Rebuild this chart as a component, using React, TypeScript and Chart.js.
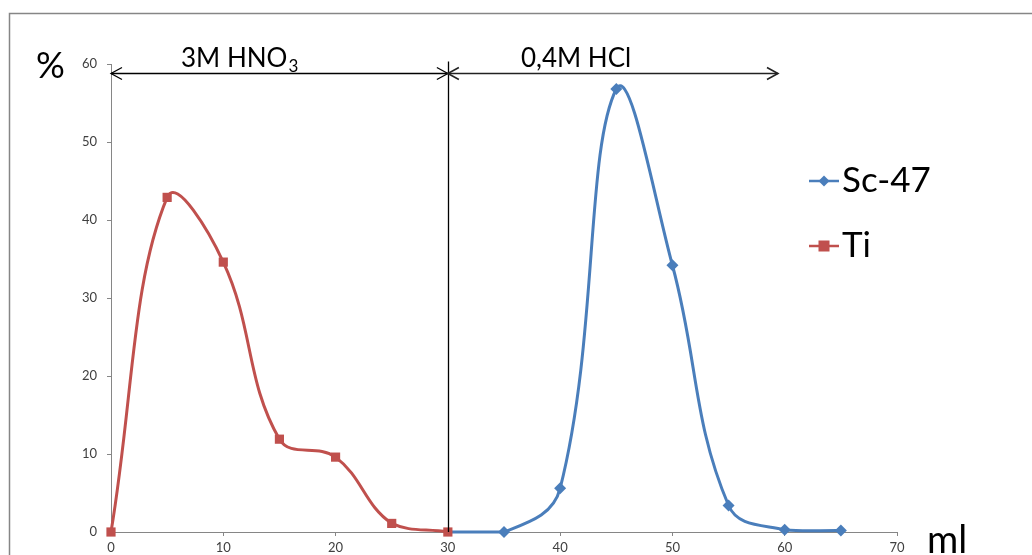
import React, { useEffect, useRef } from "react";
import { Chart, registerables } from "chart.js";

Chart.register(...registerables);

// Elution volumes (ml) and recovered fractions (%)
const tiVolumes = [0, 5, 10, 15, 20, 25, 30];
const tiPercent = [0, 42.9, 34.6, 11.9, 9.6, 1.1, 0];

const scVolumes = [30, 35, 40, 45, 50, 55, 60, 65];
const scPercent = [0, 0, 5.6, 56.8, 34.2, 3.4, 0.3, 0.2];

const xTicks = [0, 10, 20, 30, 40, 50, 60, 70];
const yTicks = [0, 10, 20, 30, 40, 50, 60];

// Eluent ranges shown by the arrows above the curves
const eluentSwitch = 30;
const hclEnd = 59.4;
const arrowLevel = 58.8;

const seriesNames = ["Sc-47", "Ti"];

const RED = "#C0504D";
const BLUE = "#4A7EBB";
const AXIS = "#868686";
const FONT = "Lato, 'Open Sans', sans-serif";

function arrowHead(ctx: CanvasRenderingContext2D, x: number, y: number, dir: number) {
  const len = 11;
  const half = 6;
  ctx.beginPath();
  ctx.moveTo(x - dir * len, y - half);
  ctx.lineTo(x, y);
  ctx.lineTo(x - dir * len, y + half);
  ctx.stroke();
}

const overlayPlugin = {
  id: "overlay",
  beforeDraw(chart: any) {
    const ctx = chart.ctx as CanvasRenderingContext2D;
    ctx.save();
    ctx.fillStyle = "#ffffff";
    ctx.fillRect(0, 0, chart.width, chart.height);
    // outer frame
    ctx.strokeStyle = AXIS;
    ctx.lineWidth = 1.5;
    ctx.strokeRect(9.5, 13.5, chart.width + 20, chart.height + 40);
    ctx.restore();
  },
  afterDraw(chart: any) {
    const ctx = chart.ctx as CanvasRenderingContext2D;
    const xs = chart.scales.x;
    const ys = chart.scales.y;
    const x0 = xs.getPixelForValue(0);
    const xSwitch = xs.getPixelForValue(eluentSwitch);
    const xEnd = xs.getPixelForValue(hclEnd);
    const yArrow = Math.round(ys.getPixelForValue(arrowLevel)) + 0.5;
    const yBottom = ys.getPixelForValue(0);

    ctx.save();
    ctx.strokeStyle = "#000000";
    ctx.lineWidth = 1.3;

    // eluent change marker
    ctx.beginPath();
    ctx.moveTo(Math.round(xSwitch) + 0.5, yArrow - 12);
    ctx.lineTo(Math.round(xSwitch) + 0.5, yBottom);
    ctx.stroke();

    // HNO3 range arrow
    ctx.beginPath();
    ctx.moveTo(x0, yArrow);
    ctx.lineTo(xSwitch, yArrow);
    ctx.stroke();
    arrowHead(ctx, x0, yArrow, -1);
    arrowHead(ctx, xSwitch, yArrow, 1);

    // HCl range arrow
    ctx.strokeStyle = "#222222";
    ctx.lineWidth = 1.6;
    ctx.beginPath();
    ctx.moveTo(xSwitch, yArrow);
    ctx.lineTo(xEnd, yArrow);
    ctx.stroke();
    arrowHead(ctx, xSwitch, yArrow, -1);
    arrowHead(ctx, xEnd, yArrow, 1);

    // eluent labels
    ctx.fillStyle = "#000000";
    ctx.textBaseline = "alphabetic";
    ctx.textAlign = "left";
    ctx.font = `26px ${FONT}`;
    const hno = "3M HNO";
    ctx.fillText(hno, 181, 67);
    const w = ctx.measureText(hno).width;
    ctx.font = `17px ${FONT}`;
    ctx.fillText("3", 181 + w + 1, 72);
    ctx.font = `26px ${FONT}`;
    ctx.fillText("0,4M HCl", 521, 67);

    // axis titles
    ctx.font = `36px ${FONT}`;
    ctx.fillText("%", 36, 78);
    ctx.font = `38px ${FONT}`;
    ctx.fillText("ml", 927, 553);

    // legend
    const legendX = 809;
    const legendRows = [181, 246];
    const colors = [BLUE, RED];
    legendRows.forEach((ly, i) => {
      ctx.strokeStyle = colors[i];
      ctx.lineWidth = 2.5;
      ctx.beginPath();
      ctx.moveTo(legendX, ly);
      ctx.lineTo(legendX + 30, ly);
      ctx.stroke();
      ctx.fillStyle = colors[i];
      const cx = legendX + 15;
      if (i === 0) {
        ctx.beginPath();
        ctx.moveTo(cx, ly - 5.5);
        ctx.lineTo(cx + 5.5, ly);
        ctx.lineTo(cx, ly + 5.5);
        ctx.lineTo(cx - 5.5, ly);
        ctx.closePath();
        ctx.fill();
      } else {
        ctx.fillRect(cx - 5.5, ly - 5.5, 11, 11);
      }
      ctx.fillStyle = "#000000";
      ctx.font = `35px ${FONT}`;
      ctx.fillText(seriesNames[i], legendX + 33, ly + 11);
    });
    ctx.restore();
  },
};

export default function App() {
  const canvasRef = useRef<HTMLCanvasElement | null>(null);

  useEffect(() => {
    const canvas = canvasRef.current;
    if (!canvas) return;
    const chart = new Chart(canvas, {
      type: "line",
      data: {
        datasets: [
          {
            label: seriesNames[1],
            data: tiVolumes.map((v, i) => ({ x: v, y: tiPercent[i] })),
            borderColor: RED,
            backgroundColor: RED,
            borderWidth: 3,
            pointStyle: "rect",
            pointRadius: 6.5,
            pointBorderWidth: 0,
            tension: 0.4,
            clip: false,
            order: 0,
          },
          {
            label: seriesNames[0],
            data: scVolumes.map((v, i) => ({ x: v, y: scPercent[i] })),
            borderColor: BLUE,
            backgroundColor: BLUE,
            borderWidth: 3,
            pointStyle: "rectRot",
            pointRadius: (c: any) => (c.dataIndex === 0 ? 0 : 6),
            pointBorderWidth: 0,
            tension: 0.4,
            clip: false,
            order: 1,
          },
        ],
      },
      options: {
        responsive: false,
        animation: false,
        devicePixelRatio: 1,
        layout: { padding: { left: 0, right: 135, top: 64, bottom: 0 } },
        plugins: { legend: { display: false }, tooltip: { enabled: false } },
        scales: {
          x: {
            type: "linear",
            min: 0,
            max: 70,
            afterBuildTicks: (s: any) => {
              s.ticks = xTicks.map((v) => ({ value: v }));
            },
            afterFit: (s: any) => {
              s.height = 23;
            },
            grid: { drawOnChartArea: false, drawTicks: true, tickLength: 4, color: AXIS },
            border: { color: AXIS, width: 1 },
            ticks: { color: "#404040", font: { family: FONT, size: 13 }, padding: 4, maxRotation: 0 },
          },
          y: {
            type: "linear",
            min: 0,
            max: 60,
            afterBuildTicks: (s: any) => {
              s.ticks = yTicks.map((v) => ({ value: v }));
            },
            afterFit: (s: any) => {
              s.width = 111;
            },
            grid: { drawOnChartArea: false, drawTicks: true, tickLength: 4, color: AXIS },
            border: { color: AXIS, width: 1 },
            ticks: { color: "#404040", font: { family: FONT, size: 13 }, padding: 10 },
          },
        },
      },
      plugins: [overlayPlugin],
    } as any);
    return () => chart.destroy();
  }, []);

  return (
    <div style={{ position: "fixed", left: 0, top: 0, width: 1032, height: 555, background: "#fff" }}>
      <canvas ref={canvasRef} width={1032} height={555} style={{ display: "block" }} />
    </div>
  );
}
